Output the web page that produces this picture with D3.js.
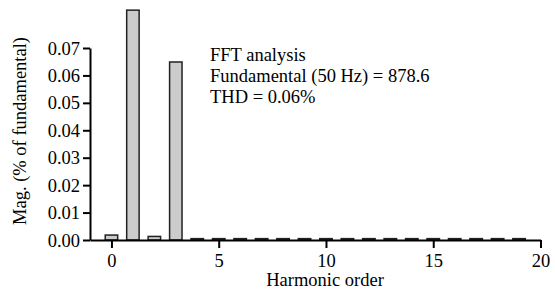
<!DOCTYPE html>
<html><head><meta charset="utf-8">
<script src="https://cdn.jsdelivr.net/npm/d3@7"></script>
<style>body{margin:0;background:#fff}svg{display:block}text{font-family:"Liberation Serif","Times New Roman",serif;fill:#000}</style>
</head><body><svg id="c" width="555" height="290"></svg>
<script>
const harmonics = [0,1,2,3,4,5,6,7,8,9,10,11,12,13,14,15,16,17,18,19];
const magnitudes = [0.0018,0.0838,0.0013,0.0649,0.0005,0.0005,0.0005,0.0005,0.0005,0.0005,0.0005,0.0005,0.0005,0.0005,0.0005,0.0005,0.0005,0.0005,0.0005,0.0005];
const xTicks = [0,5,10,15,20];
const yTicks = [0,0.01,0.02,0.03,0.04,0.05,0.06,0.07];
const notes = ["FFT analysis","Fundamental (50 Hz) = 878.6","THD = 0.06%"];

const FS = 18.5;
const svg = d3.select("#c");
const x = d3.scaleLinear().domain([-1,20]).range([90,540.5]);
const y = d3.scaleLinear().domain([0,0.07]).range([240,48]);
const bw = x(0.58)-x(0);

svg.append("g").selectAll("rect").data(harmonics).join("rect")
  .attr("x", d=>x(d)-bw/2).attr("width", bw)
  .attr("y", (d,i)=>y(magnitudes[i])).attr("height",(d,i)=>y(0)-y(magnitudes[i]))
  .attr("fill","#cccccc").attr("stroke","#222").attr("stroke-width",1.5);

const gx = svg.append("g").attr("transform","translate(0,240)")
  .call(d3.axisBottom(x).tickValues(xTicks).tickFormat(d3.format("d")).tickSize(8).tickSizeOuter(0));
const gy = svg.append("g").attr("transform","translate(90,0)")
  .call(d3.axisLeft(y).tickValues(yTicks).tickFormat(d3.format(".2f")).tickSize(7).tickSizeOuter(0));
[gx,gy].forEach(g=>{
  g.select(".domain").attr("stroke","#000").attr("stroke-width",2);
  g.selectAll(".tick line").attr("stroke","#000").attr("stroke-width",2);
  g.selectAll(".tick text").attr("font-family","Liberation Serif").attr("font-size",FS).attr("fill","#000");
});
gx.selectAll(".tick text").attr("dy",0).attr("y",27);
gy.selectAll(".tick text").attr("x",-10).attr("dy","0.33em");

svg.append("text").attr("x",325).attr("y",286).attr("text-anchor","middle").attr("font-size",FS).text("Harmonic order");
svg.append("text").attr("transform","translate(26,131) rotate(-90)").attr("text-anchor","middle").attr("font-size",FS).text("Mag. (% of fundamental)");

svg.append("g").selectAll("text").data(notes).join("text")
  .attr("x",210).attr("y",(d,i)=>61+i*21).attr("font-size",FS).text(d=>d);
</script></body></html>
